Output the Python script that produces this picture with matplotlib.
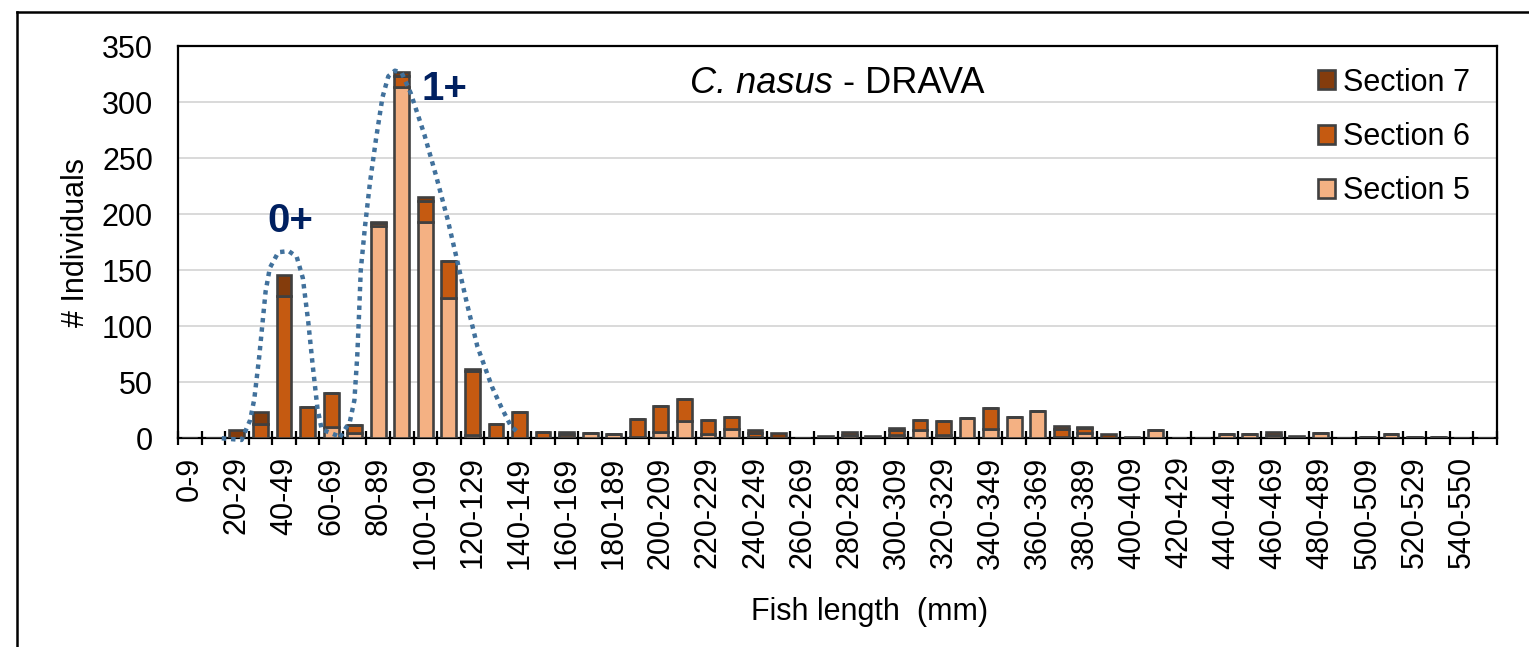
import matplotlib

matplotlib.use("Agg")
import matplotlib.pyplot as plt
import numpy as np
from matplotlib.lines import Line2D

plt.rcParams["font.family"] = ["Liberation Sans", "DejaVu Sans"]

# length classes (mm), 10 mm bins
length_bins = [
    "0-9", "10-19", "20-29", "30-39", "40-49", "50-59", "60-69", "70-79", "80-89", "90-99",
    "100-109", "110-119", "120-129", "130-139", "140-149", "150-159", "160-169", "170-179",
    "180-189", "190-199", "200-209", "210-219", "220-229", "230-239", "240-249", "250-259",
    "260-269", "270-279", "280-289", "290-299", "300-309", "310-319", "320-329", "330-339",
    "340-349", "350-359", "360-369", "370-379", "380-389", "390-399", "400-409", "410-419",
    "420-429", "430-439", "440-449", "450-459", "460-469", "470-479", "480-489", "490-499",
    "500-509", "510-519", "520-529", "530-539", "540-550", "551-560",
]

section5 = [0, 0, 0, 0, 0, 0, 10, 5, 189, 313, 193, 125, 3, 0, 0, 0, 1, 5, 4, 1,
            6, 15, 4, 8, 1, 0, 0, 0, 3, 0, 3, 7, 3, 18, 8, 19, 24, 1, 5, 0,
            0, 7, 0, 0, 4, 4, 3, 0, 5, 0, 1, 4, 1, 1, 0, 0]
section6 = [0, 0, 0, 13, 127, 28, 30, 7, 3, 10, 19, 33, 57, 13, 23, 6, 3, 0, 0, 16,
            23, 20, 12, 11, 4, 0, 0, 0, 0, 0, 4, 9, 12, 0, 19, 0, 0, 7, 4, 0,
            0, 0, 0, 0, 0, 0, 0, 0, 0, 0, 0, 0, 0, 0, 0, 0]
section7 = [0, 0, 7, 10, 19, 0, 0, 0, 1, 4, 3, 0, 2, 0, 0, 0, 2, 0, 0, 0,
            0, 0, 0, 0, 2, 5, 0, 2, 3, 2, 2, 0, 0, 0, 0, 0, 0, 3, 1, 4,
            1, 0, 0, 0, 0, 0, 3, 2, 0, 0, 0, 0, 0, 0, 0, 0]

# hand-drawn cohort envelopes (bin index, individuals)
cohort0_x = [1.36, 2.2, 2.56, 2.74, 2.95, 3.22, 3.4, 3.76, 4.2, 4.54, 4.8, 5.03, 5.22, 5.42, 5.6, 6.3]
cohort0_y = [0, -1.5, 16, 35, 73, 131, 152, 166, 167, 162, 143, 104, 65, 27, 8, 2]
cohort1_x = [6.38, 6.8, 6.99, 7.11, 7.19, 7.26, 7.44, 7.65, 7.9, 8.18, 8.43, 8.71, 9.0, 9.38,
             9.96, 10.46, 10.94, 11.36, 11.76, 12.21, 12.83, 13.22, 13.63, 14.0]
cohort1_y = [1, 15, 34, 73, 112, 150, 189, 228, 266, 304, 323, 328, 326, 308,
             271, 234, 196, 158, 121, 82, 46, 28, 11, 4]

C5, C6, C7 = "#F4B183", "#C55A11", "#843C0C"
EDGE = "#404040"

fig = plt.figure(figsize=(15.29, 6.47), dpi=100)
ax = fig.add_axes([0.1164, 0.3226, 0.8627, 0.6063])

x = np.arange(len(length_bins))
s5 = np.array(section5)
s6 = np.array(section6)
s7 = np.array(section7)
kw = dict(width=0.63, edgecolor=EDGE, linewidth=1.9, zorder=3)
ax.bar(x, s5, color=C5, label="Section 5", **kw)
ax.bar(x, s6, bottom=s5, color=C6, label="Section 6", **kw)
ax.bar(x, s7, bottom=s5 + s6, color=C7, label="Section 7", **kw)

dot = dict(color="#41719C", linewidth=3.2, linestyle=(0, (1.0, 1.1)), zorder=5,
           dash_capstyle="butt", clip_on=False)
ax.plot(cohort0_x, cohort0_y, **dot)
ax.plot(cohort1_x, cohort1_y, **dot)

ax.text(4.26, 184, "0+", fontsize=29, fontweight="bold", color="#002060",
        ha="center", va="baseline", zorder=6)
ax.text(10.8, 302, "1+", fontsize=29, fontweight="bold", color="#002060",
        ha="center", va="baseline", zorder=6)

# title: italic species name + plain river name
ax.text(0.4966, 0.879, "C. nasus", transform=ax.transAxes, fontsize=26,
        fontstyle="italic", ha="right", va="baseline")
ax.text(0.5042, 0.879, "- DRAVA", transform=ax.transAxes, fontsize=26,
        ha="left", va="baseline")

ax.set_xlim(-0.5, len(length_bins) - 0.5)
ax.set_ylim(0, 350)
ax.set_yticks(np.arange(0, 351, 50))
ax.yaxis.grid(True, color="#D9D9D9", linewidth=1.4, zorder=0)
ax.set_axisbelow(True)
ax.tick_params(axis="y", length=0, pad=18, labelsize=22)

ax.set_xticks(np.arange(-0.5, len(length_bins), 1.0))
ax.set_xticklabels([])
ax.tick_params(axis="x", which="major", direction="inout", length=9.5, width=1.6)
ax.set_xticks(x[::2], minor=True)
ax.set_xticklabels(length_bins[::2], minor=True, rotation=90, fontsize=22)
ax.tick_params(axis="x", which="minor", length=0, pad=13)

for sp in ax.spines.values():
    sp.set_linewidth(1.6)
    sp.set_color("black")

ax.set_ylabel("# Individuals", fontsize=22)
ax.yaxis.set_label_coords(-0.066, 0.5)
ax.set_xlabel("Fish length  (mm)", fontsize=22, va="top")
ax.xaxis.set_label_coords(0.5246, -0.405)

h, l = ax.get_legend_handles_labels()
ax.legend(h[::-1], l[::-1], loc="upper right", bbox_to_anchor=(0.9795, 0.945),
          frameon=False, fontsize=22, handlelength=0.58, handleheight=0.58,
          handletextpad=0.25, labelspacing=0.8, borderpad=0, borderaxespad=0)

# outer chart frame (top and left edges visible)
W, H = 1529, 647
fig.add_artist(Line2D([17 / W, 1.0], [1 - 12 / H, 1 - 12 / H], color="black", linewidth=1.8,
                      transform=fig.transFigure))
fig.add_artist(Line2D([17 / W, 17 / W], [0.0, 1 - 12 / H], color="black", linewidth=1.8,
                      transform=fig.transFigure))

fig.savefig("out.png", dpi=100)
